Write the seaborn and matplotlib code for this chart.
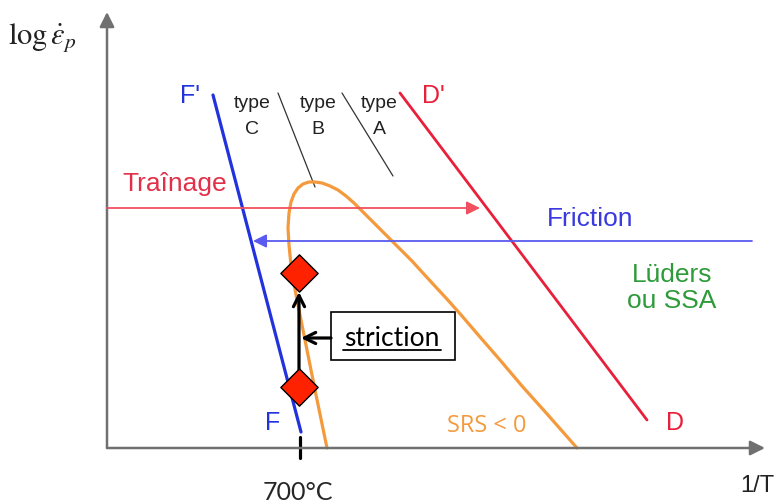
import seaborn as sns
import pandas as pd
import matplotlib.pyplot as plt

# schematic in image units (x to the right, y downward), 777 x 504
W, H = 777, 504

# axes of the diagram
x_axis = [107, 765]
y_axis = [448, 12]
axis_y = 448

# straight boundaries
f_line_x = [213, 301]
f_line_y = [95, 432]
d_line_x = [400, 647]
d_line_y = [93, 420]
type_cb_x = [278, 315]
type_cb_y = [93, 187]
type_ba_x = [342, 393]
type_ba_y = [93, 176]

# SRS < 0 domain (orange nose curve)
srs_x = [327, 315, 303, 296, 291, 289, 288, 289, 291, 294, 298, 303, 309, 315, 322, 330,
         338, 346, 354, 362, 372, 382, 392, 402, 412, 422, 433, 446, 462, 480, 500, 522, 548, 577]
srs_y = [448, 390, 330, 295, 265, 245, 228, 213, 202, 194, 188, 184, 182, 182, 183, 186,
         190, 196, 203, 211, 221, 231, 241, 251, 261, 272, 284, 298, 316, 337, 360, 386, 415, 448]

# horizontal arrows: start, tip, height
trainage_arrow = (107, 480, 208)
friction_arrow = (752, 253, 241)

# striction points
pts_x = [299, 299]
pts_y = [273, 387]

tick_700 = 300

type_x = [252, 318, 379]
type_letters = ["C", "B", "A"]

blue = "#2233dd"
red = "#e8203a"
orange = "#f59a3c"
green = "#2e9b3a"

sns.set_theme(style="white")
plt.rcParams['font.family'] = ['Liberation Sans', 'DejaVu Sans']
plt.rcParams['mathtext.fontset'] = 'stix'

fig = plt.figure(figsize=(W / 100, H / 100), dpi=100)
ax = fig.add_axes([0, 0, 1, 1])
ax.set_xlim(0, W)
ax.set_ylim(H, 0)
ax.axis('off')

# axes with arrow heads
ax.annotate('', xy=(x_axis[1], axis_y), xytext=(x_axis[0], axis_y),
            arrowprops=dict(arrowstyle='-|>', mutation_scale=22, lw=1.8, color='#707070',
                            shrinkA=0, shrinkB=0))
ax.annotate('', xy=(x_axis[0], y_axis[1]), xytext=(x_axis[0], y_axis[0]),
            arrowprops=dict(arrowstyle='-|>', mutation_scale=22, lw=1.8, color='#707070',
                            shrinkA=0, shrinkB=0))

def seg(xs, ys, color, lw):
    df = pd.DataFrame({"x": xs, "y": ys})
    sns.lineplot(data=df, x="x", y="y", sort=False, estimator=None, color=color, lw=lw, ax=ax)

seg(type_cb_x, type_cb_y, "#333333", 0.9)
seg(type_ba_x, type_ba_y, "#333333", 0.9)
seg(srs_x, srs_y, orange, 2.3)
seg(f_line_x, f_line_y, blue, 2.3)
seg(d_line_x, d_line_y, red, 2.0)

# Traînage / Friction arrows
ax.annotate('', xy=(trainage_arrow[1], trainage_arrow[2]), xytext=(trainage_arrow[0], trainage_arrow[2]),
            arrowprops=dict(arrowstyle='-|>', mutation_scale=20, lw=1.3, color="#f0505f",
                            shrinkA=0, shrinkB=0))
ax.annotate('', xy=(friction_arrow[1], friction_arrow[2]), xytext=(friction_arrow[0], friction_arrow[2]),
            arrowprops=dict(arrowstyle='-|>', mutation_scale=20, lw=1.3, color="#5a5af0",
                            shrinkA=0, shrinkB=0))

# striction arrows
ax.annotate('', xy=(pts_x[0], 292), xytext=(pts_x[1], 370),
            arrowprops=dict(arrowstyle='->', mutation_scale=20, lw=2.3, color='black',
                            shrinkA=0, shrinkB=0))
ax.annotate('', xy=(301, 338), xytext=(331, 338),
            arrowprops=dict(arrowstyle='->', mutation_scale=20, lw=2.3, color='black',
                            shrinkA=0, shrinkB=0))

sns.scatterplot(x=pts_x, y=pts_y, marker='D', s=360, color="#ff2200",
                edgecolor='black', linewidth=1.0, ax=ax, zorder=5)

# 700°C tick
ax.plot([tick_700, tick_700], [437, 458], color='black', lw=2.3)

# striction box
ax.add_patch(plt.Rectangle((331, 312), 124, 48, fill=False, edgecolor='black', lw=1.2))
ax.text(392, 346, "striction", fontsize=19, family=['Lato', 'DejaVu Sans'],
        ha='center', va='baseline', color='black')
ax.plot([343, 441], [350, 350], color='black', lw=1.3)

# labels
ax.text(8, 37, r'$\log\dot{\varepsilon}_p$', fontsize=22, ha='left', va='center', color='#222222')
ax.text(757, 486, "1/T", fontsize=17, ha='center', va='center', color='#222222')
ax.text(298, 492, "700°C", fontsize=18, family=['Lato', 'DejaVu Sans'], ha='center', va='center')
ax.text(487, 426, "SRS < 0", fontsize=17, family=['Open Sans', 'DejaVu Sans'], ha='center',
        va='center', color=orange)

ax.text(190, 96, "F'", fontsize=18, color=blue, ha='center', va='center')
ax.text(273, 423, "F", fontsize=18, color=blue, ha='center', va='center')
ax.text(433, 96, "D'", fontsize=18, color=red, ha='center', va='center')
ax.text(675, 423, "D", fontsize=18, color=red, ha='center', va='center')

for cx, letter in zip(type_x, type_letters):
    ax.text(cx, 103, "type", fontsize=14, color='#222222', ha='center', va='center')
    ax.text(cx, 129, letter, fontsize=14, color='#222222', ha='center', va='center')

ax.text(122, 184, "Traînage", fontsize=19, color="#e23048", ha='left', va='center')
ax.text(590, 219, "Friction", fontsize=19, color="#3a3ae0", ha='center', va='center')
ax.text(672, 288, "Lüders\nou SSA", fontsize=19, color=green, ha='center', va='center',
        linespacing=1.15)

fig.savefig("out.png", dpi=100)
